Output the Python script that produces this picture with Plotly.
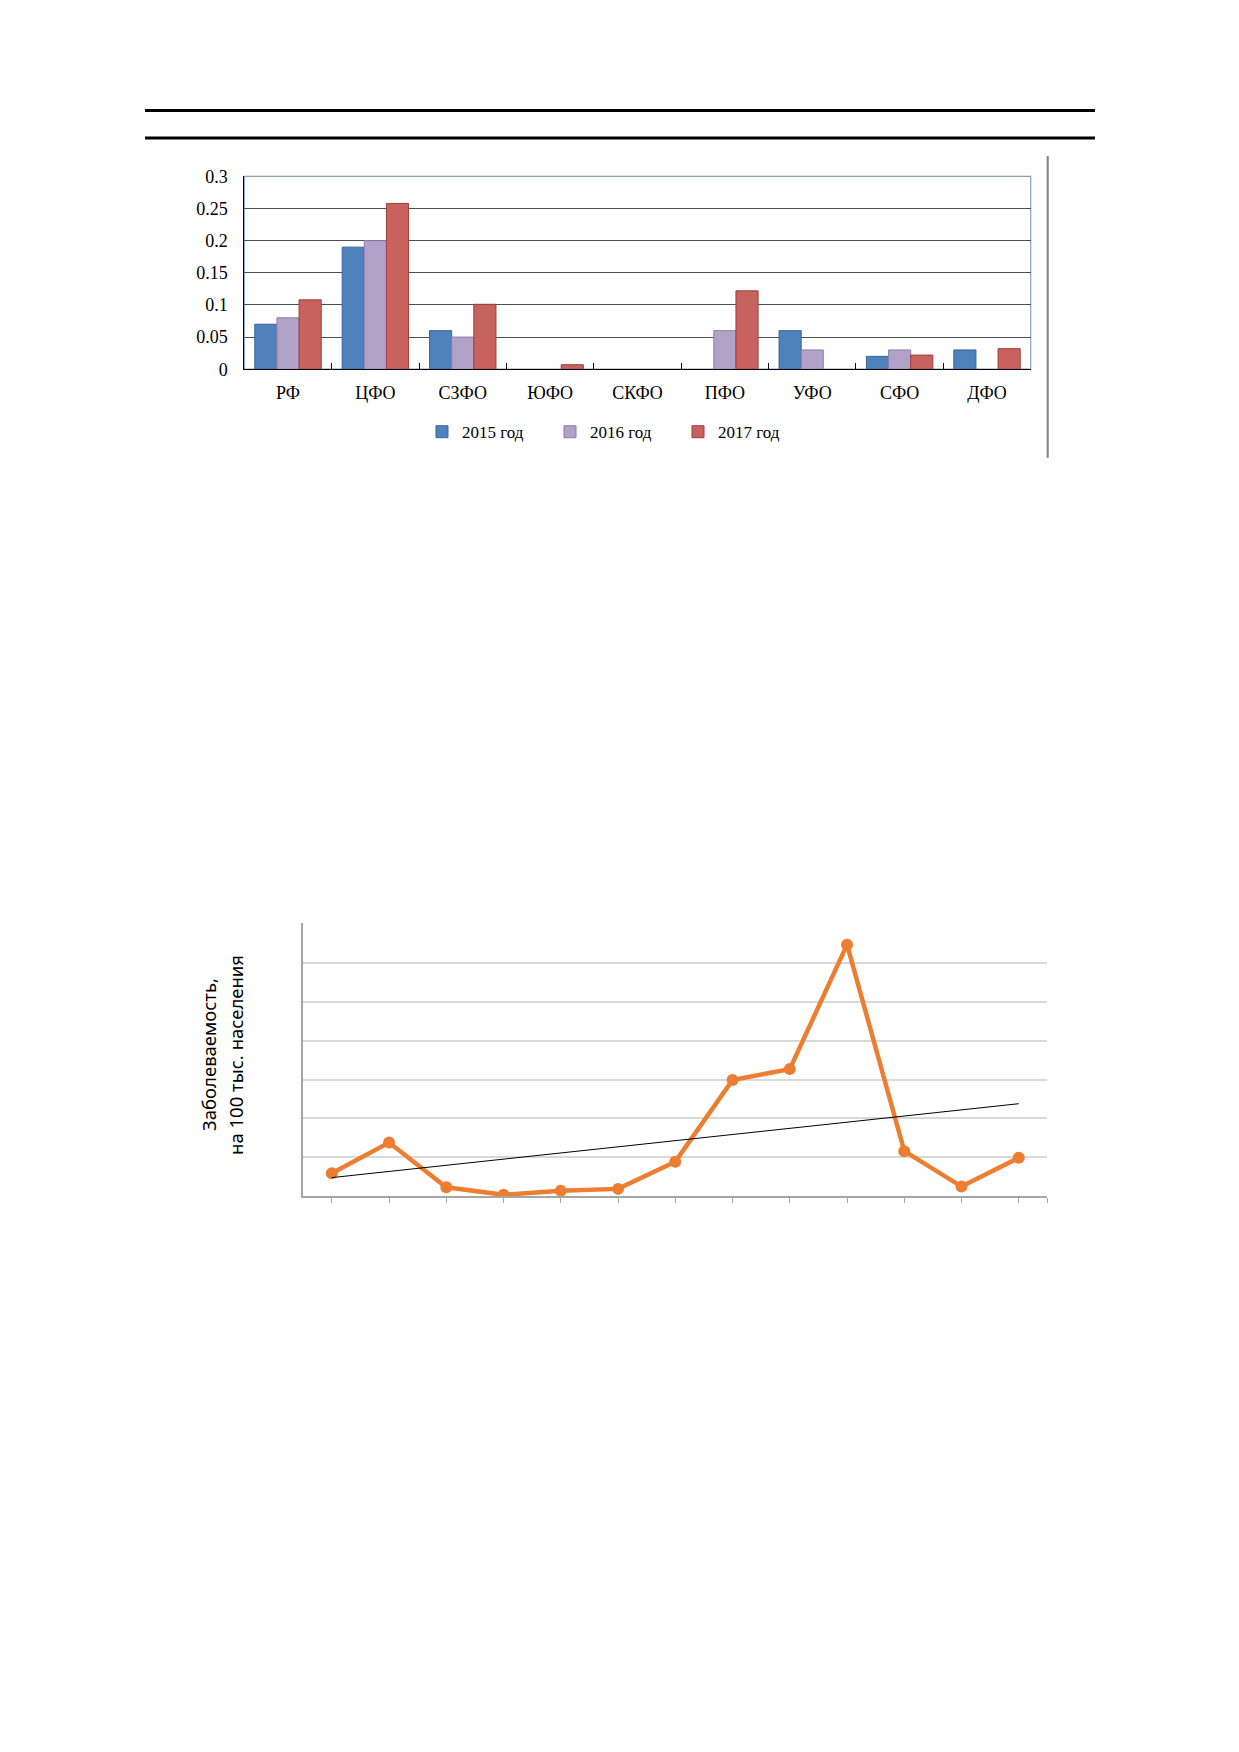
import numpy as np
import plotly.graph_objects as go

# ---- top chart data (bars by federal district) ----
districts = ["РФ", "ЦФО", "СЗФО", "ЮФО", "СКФО", "ПФО", "УФО", "СФО", "ДФО"]
y2015 = [0.07, 0.19, 0.06, 0, 0, 0, 0.06, 0.02, 0.03]
y2016 = [0.08, 0.20, 0.05, 0, 0, 0.06, 0.03, 0.03, 0]
y2017 = [0.108, 0.258, 0.101, 0.007, 0, 0.122, 0, 0.022, 0.032]
years = ["2015 год", "2016 год", "2017 год"]
bar_fill = ["#4F81BD", "#B3A2C7", "#C8625F"]
bar_edge = ["#3B6597", "#8E7DAA", "#9E3F3C"]

# ---- bottom chart data (incidence line, no labels on axes) ----
points = list(range(1, 14))
incidence = [0.059, 0.138, 0.023, 0.004, 0.014, 0.019, 0.089,
             0.299, 0.327, 0.647, 0.116, 0.025, 0.099]

# page is 1239x1752, the html body keeps its 8px margin
PAD = 8
W, H = 1239 - 2 * PAD, 1752 - 2 * PAD


def px_x(v):
    return (v - PAD) / W


def px_y(v):
    return 1 - (v - PAD) / H


fig = go.Figure()

for name, vals, c, e in zip(years, [y2015, y2016, y2017], bar_fill, bar_edge):
    fig.add_trace(go.Bar(
        x=districts, y=vals, name=name,
        marker=dict(color=c, line=dict(color=e, width=[1 if v else 0 for v in vals])),
        xaxis="x", yaxis="y",
    ))

# linear trend over the line data
k, b = np.polyfit(points, incidence, 1)
trend = [k * p + b for p in points]

fig.add_trace(go.Scatter(
    x=points, y=incidence, mode="lines+markers",
    line=dict(color="#ED7D31", width=4.5),
    marker=dict(color="#ED7D31", size=12),
    showlegend=False, xaxis="x2", yaxis="y2",
))
fig.add_trace(go.Scatter(
    x=[points[0], points[-1]], y=[trend[0], trend[-1]], mode="lines",
    line=dict(color="black", width=1),
    showlegend=False, xaxis="x2", yaxis="y2",
))

serif = "Liberation Serif, Times New Roman, serif"
sans = "Noto Sans, Open Sans, sans-serif"

fig.update_layout(
    width=W, height=H,
    margin=dict(l=0, r=0, t=0, b=0),
    paper_bgcolor="white", plot_bgcolor="white",
    barmode="group", bargap=0.24, bargroupgap=0,
    font=dict(family=serif, size=17, color="black"),
    legend=dict(
        orientation="h", x=px_x(422), xanchor="left",
        y=px_y(427), yanchor="middle",
        font=dict(family=serif, size=17, color="black"),
        entrywidth=83, itemwidth=30, traceorder="normal",
    ),
    xaxis=dict(
        domain=[px_x(244.3), px_x(1030.7)], anchor="y",
        type="category", showline=True, linecolor="black", linewidth=1,
        ticks="inside", tickson="boundaries", ticklen=6, tickcolor="black",
        tickfont=dict(family=serif, size=18), showgrid=False,
        ticklabelstandoff=7,
    ),
    yaxis=dict(
        domain=[px_y(363.3), px_y(168.3)], anchor="x",
        range=[0, 0.3], dtick=0.05, showline=True, linecolor="black",
        linewidth=1, gridcolor="#505050", gridwidth=1, zeroline=False,
        ticks="", tickfont=dict(family=serif, size=18), ticklabelstandoff=12,
    ),
    xaxis2=dict(
        domain=[px_x(303.2), px_x(1047.4)], anchor="y2",
        range=[0.5, 13.5], showline=True, linecolor="#A6A6A6", linewidth=1.5,
        ticks="outside", ticklen=5, tickcolor="#A6A6A6", tickwidth=1,
        tickvals=points + [13.5], showticklabels=False, showgrid=False,
        zeroline=False,
    ),
    yaxis2=dict(
        domain=[px_y(1200), px_y(924)], anchor="x2",
        range=[0, 0.7015], dtick=0.1, showline=True, linecolor="#A6A6A6",
        linewidth=1.5, gridcolor="#D9D9D9", gridwidth=1.5,
        showticklabels=False, zeroline=False, ticks="",
    ),
    shapes=[
        # page rules above the first chart
        dict(type="line", xref="paper", yref="paper",
             x0=px_x(145), x1=px_x(1095), y0=px_y(101.7), y1=px_y(101.7),
             line=dict(color="black", width=3)),
        dict(type="line", xref="paper", yref="paper",
             x0=px_x(145), x1=px_x(1095), y0=px_y(129.3), y1=px_y(129.3),
             line=dict(color="black", width=3)),
        # vertical rule at right of the bar chart
        dict(type="line", xref="paper", yref="paper",
             x0=px_x(1047.7), x1=px_x(1047.7), y0=px_y(147.5), y1=px_y(453),
             line=dict(color="#808080", width=2)),
        # bar chart frame (top and right edges)
        dict(type="rect", xref="x domain", yref="y domain",
             x0=0, x1=1, y0=0, y1=1, layer="below",
             line=dict(color="#8DA0BC", width=1.2)),
    ],
    annotations=[
        dict(text=line, xref="paper", yref="paper",
             x=px_x(xc), y=px_y(1057), xanchor="center", yanchor="middle",
             textangle=-90, showarrow=False,
             font=dict(family=sans, size=18.5, color="black"))
        for line, xc in [("Заболеваемость,", 209), ("на 100 тыс. населения", 236)]
    ],
)

fig.write_html("out.html")
